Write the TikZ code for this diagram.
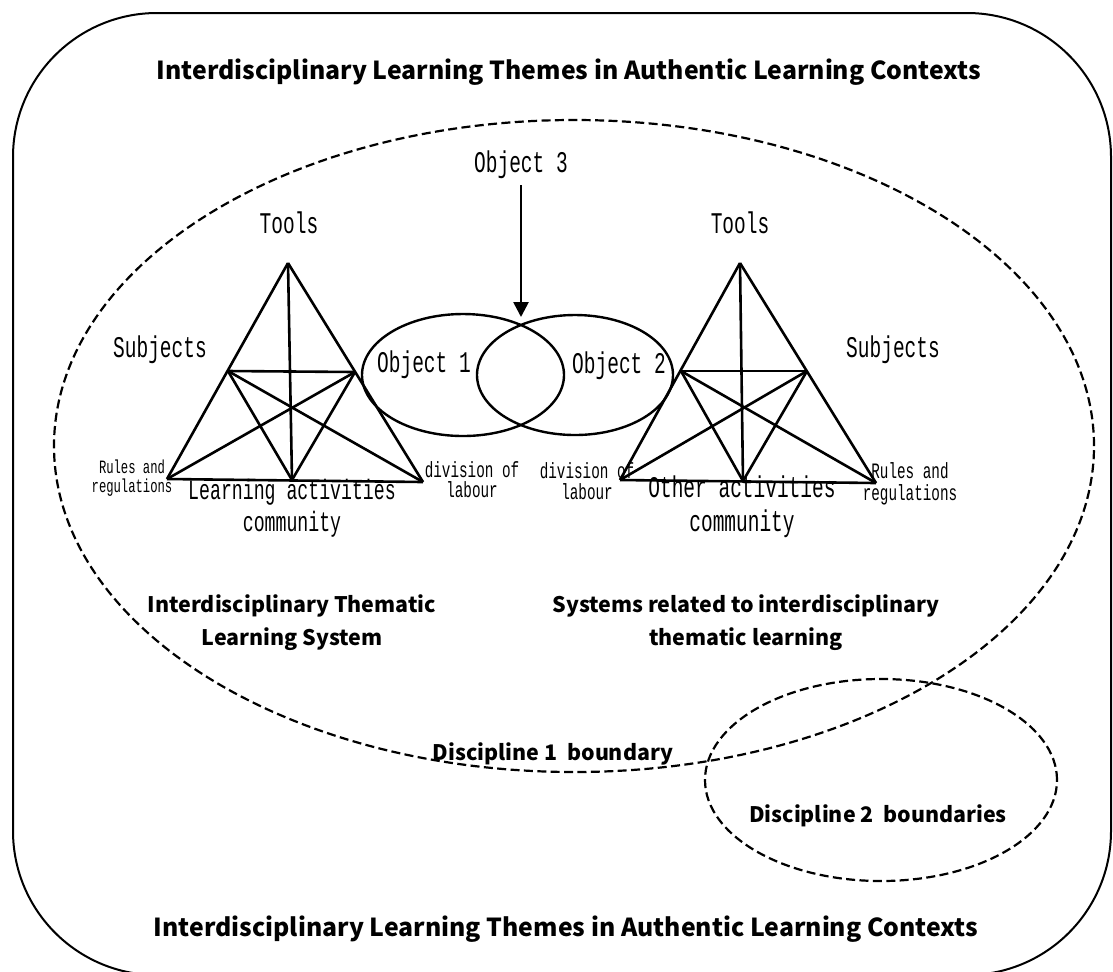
\documentclass[tikz,border=0pt]{standalone}
\usepackage{fontspec}
\newfontfamily\monofont{Liberation Mono}[FakeStretch=0.65]
\newfontfamily\headfont{Noto Sans CJK SC}
\usetikzlibrary{shapes.geometric,arrows.meta}

\begin{document}
\begin{tikzpicture}[x=0.5pt,y=-0.5pt,
    mono/.style={font=\monofont\fontsize{15}{17}\selectfont},
    head/.style={font=\headfont\bfseries\fontsize{10.7}{16.5}\selectfont},
    bound/.style={draw,dash pattern=on 4.5pt off 2.2pt,line width=1.1pt}]

  \useasboundingbox (0,0) rectangle (1113,971);
  \draw[line width=1pt,rounded corners=72pt] (13,13) rectangle (1111,975);

  \begin{scope}[every node/.style={ellipse,inner sep=0pt}]
    \node[bound,minimum width=520pt,minimum height=326pt] (disc1) at (574,446) {};
    \node[bound,minimum width=176pt,minimum height=101pt] (disc2) at (881,780) {};
    \node[draw,line width=1.2pt,minimum width=101pt,minimum height=61pt] (obj1) at (463,375) {};
    \node[draw,line width=1.2pt,minimum width=98pt,minimum height=60pt] (obj2) at (575,375) {};
  \end{scope}

  \coordinate (tool1) at (288,263);
  \coordinate (subj1) at (228,371);
  \coordinate (goal1) at (355,372);
  \coordinate (rule1) at (167,479);
  \coordinate (comm1) at (292,480);
  \coordinate (div1)  at (423,482);

  \coordinate (tool2) at (740,263);
  \coordinate (goal2) at (681,371);
  \coordinate (subj2) at (807,371);
  \coordinate (div2)  at (620,480);
  \coordinate (comm2) at (743,481);
  \coordinate (rule2) at (876,483);

  \begin{scope}[every edge/.style={draw,line width=1.3pt}]
    \path (tool1) edge (rule1);
    \path (tool1) edge (div1);
    \path (rule1) edge (div1);
    \path (subj1) edge (goal1);
    \path (subj1) edge (comm1);
    \path (goal1) edge (comm1);
    \path (tool1) edge (comm1);
    \path (subj1) edge (div1);
    \path (goal1) edge (rule1);

    \path (tool2) edge (div2);
    \path (tool2) edge (rule2);
    \path (div2)  edge (rule2);
    \path (goal2) edge (subj2);
    \path (goal2) edge (comm2);
    \path (subj2) edge (comm2);
    \path (tool2) edge (comm2);
    \path (goal2) edge (rule2);
    \path (subj2) edge (div2);
  \end{scope}

  \begin{scope}[every node/.style={mono,anchor=base}]
    \node (tools1) at (289,233) {Tools};
    \node (tools2) at (740,233) {Tools};
    \node (subjects1) at (160,357) {Subjects};
    \node (subjects2) at (893,357) {Subjects};
    \node (object1) at (424,372) {Object 1};
    \node (object2) at (619,373) {Object 2};
    \node (object3) at (521,172) {Object 3};
  \end{scope}

  \begin{scope}[every node/.style={align=center}]
    \node[font=\monofont\fontsize{9.4}{9.5}\selectfont] (rules1) at (132,478) {Rules and\\regulations};
    \node[font=\monofont\fontsize{11}{11}\selectfont] (rules2) at (910,484) {Rules and\\regulations};
    \node[font=\monofont\fontsize{11}{10}\selectfont] (labour1) at (472,480) {division of\\labour};
    \node[font=\monofont\fontsize{11}{10.5}\selectfont] (labour2) at (587,481) {division of\\labour};
    \node[font=\monofont\fontsize{14}{16}\selectfont] (learn1) at (292,508) {Learning activities\\community};
    \node[font=\monofont\fontsize{15}{17}\selectfont] (other2) at (742,507) {Other activities\\community};
    \node[head] (system1) at (292,623) {Interdisciplinary Thematic\\Learning System};
    \node[head] (system2) at (746,623) {Systems related to interdisciplinary\\thematic learning};
  \end{scope}

  \begin{scope}[every node/.style={head,anchor=base}]
    \node[font=\headfont\bfseries\fontsize{12.4}{15}\selectfont] (themetop) at (569,79) {Interdisciplinary Learning Themes in Authentic Learning Contexts};
    \node[font=\headfont\bfseries\fontsize{12.4}{15}\selectfont] (themebot) at (566,936) {Interdisciplinary Learning Themes in Authentic Learning Contexts};
    \node (bound1) at (553,760) {Discipline 1\ \ boundary};
    \node (bound2) at (878,822) {Discipline 2\ \ boundaries};
  \end{scope}

  \coordinate (meet) at (521,317);
  \draw[line width=1.3pt,-{Triangle[length=7.5pt,width=7.5pt]}] (object3) -- (meet);

\end{tikzpicture}
\end{document}
